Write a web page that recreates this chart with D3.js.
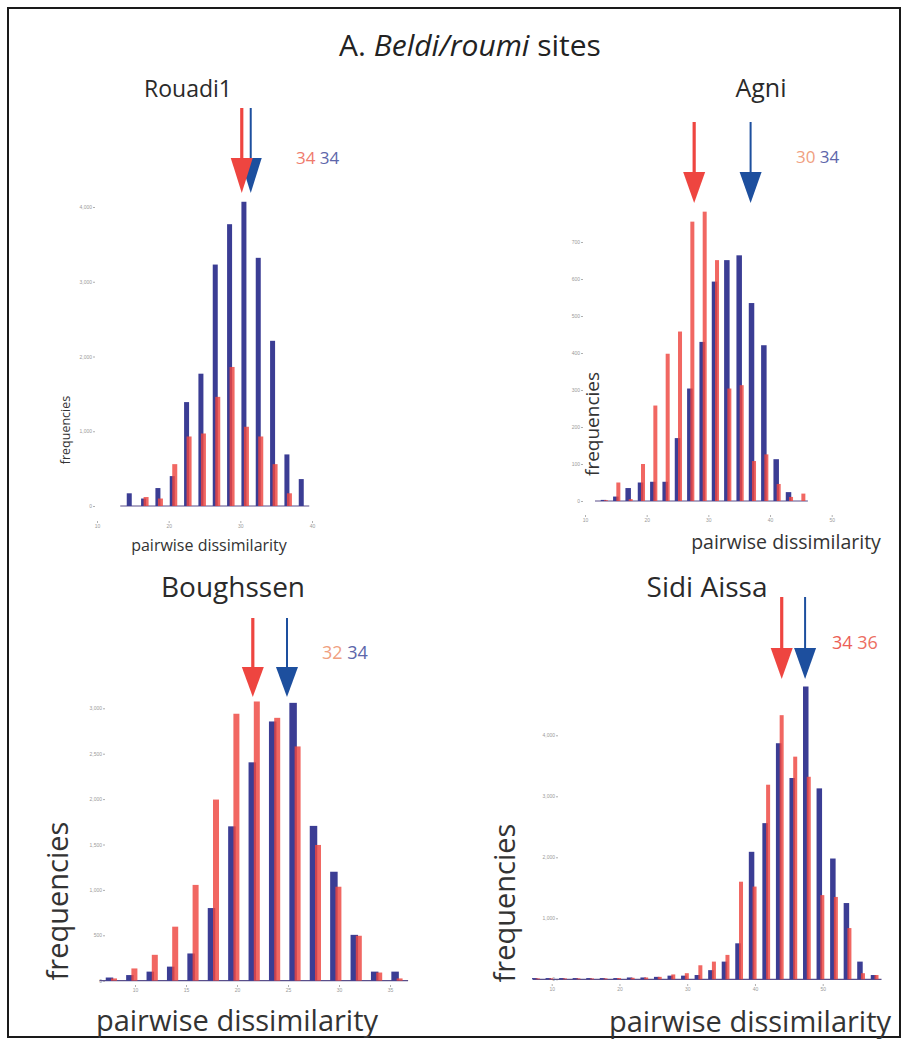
<!DOCTYPE html>
<html>
<head>
<meta charset="utf-8">
<script src="https://cdn.jsdelivr.net/npm/d3@7"></script>
<style>
  body { margin: 0; background: #fff; }
  svg { display: block; font-family: "Open Sans", "Noto Sans", sans-serif; }
  .tick text { fill: #9a9a9a; font-size: 5px; }
  .tick line { stroke: #b0b0b0; }
</style>
</head>
<body>
<script>
// ---- values ----

// Rouadi1
var rouadiBins = [14.5, 16.5, 18.5, 20.5, 22.5, 24.5, 26.5, 28.5, 30.5, 32.5, 34.5, 36.5, 38.5];
var rouadiBlue = [170, 100, 240, 400, 1390, 1770, 3230, 3770, 4070, 3320, 2210, 690, 360];
var rouadiRed  = [0, 120, 100, 560, 930, 970, 1460, 1860, 1060, 930, 560, 170, 0];
var rouadiXTicks = [10, 20, 30, 40];
var rouadiYTicks = [0, 1000, 2000, 3000, 4000];
var rouadiArrows = [30.2, 31.45];   // red, blue
var rouadiMeans = ["34", "34"];

// Agni
var agniBins = [13, 15, 17, 19, 21, 23, 25, 27, 29, 31, 33, 35, 37, 39, 41, 43, 45];
var agniBlue = [3, 12, 35, 50, 52, 52, 170, 304, 430, 593, 651, 664, 535, 421, 113, 24, 0];
var agniRed  = [2, 50, 5, 100, 258, 398, 458, 755, 782, 651, 304, 313, 108, 126, 46, 11, 20];
var agniXTicks = [10, 20, 30, 40, 50];
var agniYTicks = [0, 100, 200, 300, 400, 500, 600, 700];
var agniArrows = [27.7, 36.85];
var agniMeans = ["30", "34"];

// Boughssen
var boughBins = [7.5, 9.5, 11.5, 13.5, 15.5, 17.5, 19.5, 21.5, 23.5, 25.5, 27.5, 29.5, 31.5, 33.5, 35.5];
var boughBlue = [35, 62, 100, 155, 300, 800, 1700, 2405, 2855, 3060, 1705, 1200, 505, 100, 100];
var boughRed  = [25, 135, 285, 595, 1055, 1995, 2940, 3075, 2895, 2580, 1495, 1035, 495, 90, 25];
var boughXTicks = [10, 15, 20, 25, 30, 35];
var boughYTicks = [0, 500, 1000, 1500, 2000, 2500, 3000];
var boughArrows = [21.55, 24.9];
var boughMeans = ["32", "34"];

// Sidi Aissa
var sidiBins = [7.5, 9.5, 11.5, 13.5, 15.5, 17.5, 19.5, 21.5, 23.5, 25.5, 27.5, 29.5, 31.5,
                33.5, 35.5, 37.5, 39.5, 41.5, 43.5, 45.5, 47.5, 49.5, 51.5, 53.5, 55.5, 57.5];
var sidiBlue = [20, 20, 20, 20, 20, 20, 20, 30, 30, 40, 60, 60, 70, 150, 290,
                590, 2090, 2560, 3870, 3300, 4800, 3130, 1980, 1250, 290, 70];
var sidiRed  = [15, 15, 15, 15, 15, 15, 20, 25, 30, 40, 80, 100, 230, 290, 400,
                1600, 1520, 3190, 4330, 3650, 3320, 1380, 1350, 840, 100, 70];
var sidiXTicks = [10, 20, 30, 40, 50];
var sidiYTicks = [0, 1000, 2000, 3000, 4000];
var sidiArrows = [43.95, 47.4];
var sidiMeans = ["34", "36"];

var RED = "#ee4540", BLUE_BAR = "#3b3d94", BLUE_ARROW = "#1d4f9e";

// panel layout (pixels)
var panels = [
  { name: "Rouadi1", bins: rouadiBins, blue: rouadiBlue, red: rouadiRed, xTicks: rouadiXTicks, yTicks: rouadiYTicks,
    arrows: rouadiArrows, means: rouadiMeans, meanColors: ["#ef7a6c", "#5d66aa"],
    xRange: [97, 312], base: 506, yTop: 207, yAxisX: 95, xAxisY: 521, pad: [-9, 8],
    bw: 5, rw: 5, roff: 2.5, arrowTop: 108, headTop: 158, tip: 193,
    title: [188, 97, 23], meanPos: [296, 164, 17], yLab: [70, 430, 12.5], xLab: [209, 551, 16] },
  { name: "Agni", bins: agniBins, blue: agniBlue, red: agniRed, xTicks: agniXTicks, yTicks: agniYTicks,
    arrows: agniArrows, means: agniMeans, meanColors: ["#f0a080", "#5d66aa"],
    xRange: [585, 831.7], base: 501, yTop: 242, yAxisX: 583, xAxisY: 515, pad: [-8.5, 7],
    bw: 5.5, rw: 4, roff: 2.5, arrowTop: 122, headTop: 172, tip: 203,
    title: [761, 97, 25], meanPos: [796, 163, 17], yLab: [599, 424, 19], xLab: [786, 549, 19.5] },
  { name: "Boughssen", bins: boughBins, blue: boughBlue, red: boughRed, xTicks: boughXTicks, yTicks: boughYTicks,
    arrows: boughArrows, means: boughMeans, meanColors: ["#f0a080", "#5d66aa"],
    xRange: [135, 390], base: 980.7, yTop: 708.3, yAxisX: 105, xAxisY: 985, pad: [-10, 13],
    bw: 7.5, rw: 6, roff: 4.5, arrowTop: 618, headTop: 667, tip: 697,
    title: [233, 597, 28], meanPos: [322, 659, 18], yLab: [68, 901, 29], xLab: [237, 1031, 29] },
  { name: "Sidi Aissa", bins: sidiBins, blue: sidiBlue, red: sidiRed, xTicks: sidiXTicks, yTicks: sidiYTicks,
    arrows: sidiArrows, means: sidiMeans, meanColors: ["#ec5e56", "#ec6e62"],
    xRange: [551.7, 822.7], base: 979.3, yTop: 735.3, yAxisX: 558, xAxisY: 984, pad: [-2, 8],
    bw: 5.5, rw: 4, roff: 3, arrowTop: 597, headTop: 648, tip: 679,
    title: [707, 597, 28], meanPos: [832, 649, 18], yLab: [515, 903, 29], xLab: [750, 1032, 29] }
];

var svg = d3.select("body").append("svg")
  .attr("width", 907)
  .attr("height", 1042);

// frame
svg.append("rect")
  .attr("x", 8).attr("y", 8)
  .attr("width", 892).attr("height", 1029)
  .attr("fill", "none")
  .attr("stroke", "#1a1a1a")
  .attr("stroke-width", 2);

// main title
var mt = svg.append("text")
  .attr("x", 470).attr("y", 56)
  .attr("text-anchor", "middle")
  .attr("font-size", 30)
  .attr("fill", "#222");
mt.append("tspan").text("A. ");
mt.append("tspan").attr("font-style", "italic").text("Beldi/roumi");
mt.append("tspan").text(" sites");

panels.forEach(drawPanel);

function drawPanel(p) {
  var x = d3.scaleLinear()
    .domain([p.xTicks[0], p.xTicks[p.xTicks.length - 1]])
    .range(p.xRange);
  var y = d3.scaleLinear()
    .domain([0, p.yTicks[p.yTicks.length - 1]])
    .range([p.base, p.yTop]);

  var g = svg.append("g");

  // y axis (tiny labels)
  g.append("g")
    .attr("transform", "translate(" + p.yAxisX + ",0)")
    .call(d3.axisLeft(y).tickValues(p.yTicks).tickSize(2).tickPadding(1))
    .call(function(a) { a.select(".domain").remove(); });

  // x axis (tiny labels)
  g.append("g")
    .attr("transform", "translate(0," + p.xAxisY + ")")
    .call(d3.axisBottom(x).tickValues(p.xTicks).tickSize(2).tickPadding(1))
    .call(function(a) { a.select(".domain").remove(); });

  // baseline
  var last = p.bins[p.bins.length - 1];
  g.append("line")
    .attr("x1", x(p.bins[0]) + p.pad[0])
    .attr("x2", x(last) + p.pad[1])
    .attr("y1", p.base).attr("y2", p.base)
    .attr("stroke", "#5a4f8a")
    .attr("stroke-width", 1.2);

  // blue bars
  g.selectAll("rect.blue")
    .data(p.bins)
    .join("rect")
    .attr("class", "blue")
    .attr("x", function(d) { return x(d) - p.bw / 2; })
    .attr("y", function(d, i) { return y(p.blue[i]); })
    .attr("width", p.bw)
    .attr("height", function(d, i) { return p.base - y(p.blue[i]); })
    .attr("fill", BLUE_BAR);

  // red bars, drawn over the blue ones
  g.selectAll("rect.red")
    .data(p.bins)
    .join("rect")
    .attr("class", "red")
    .attr("x", function(d) { return x(d) + p.roff - p.rw / 2; })
    .attr("y", function(d, i) { return y(p.red[i]); })
    .attr("width", p.rw)
    .attr("height", function(d, i) { return p.base - y(p.red[i]); })
    .attr("fill", RED)
    .attr("fill-opacity", 0.82);

  // arrows: blue first, red on top
  arrow(g, x(p.arrows[1]), BLUE_ARROW, 2, p);
  arrow(g, x(p.arrows[0]), RED, 3.2, p);

  // mean labels
  var mtxt = g.append("text")
    .attr("x", p.meanPos[0]).attr("y", p.meanPos[1])
    .attr("font-size", p.meanPos[2]);
  mtxt.append("tspan").attr("fill", p.meanColors[0]).text(p.means[0] + " ");
  mtxt.append("tspan").attr("fill", p.meanColors[1]).text(p.means[1]);

  // panel title
  g.append("text")
    .attr("x", p.title[0]).attr("y", p.title[1])
    .attr("text-anchor", "middle")
    .attr("font-size", p.title[2])
    .attr("fill", "#2a2a2a")
    .text(p.name);

  // axis titles
  g.append("text")
    .attr("transform", "translate(" + p.yLab[0] + "," + p.yLab[1] + ") rotate(-90)")
    .attr("text-anchor", "middle")
    .attr("font-size", p.yLab[2])
    .attr("fill", "#333")
    .text("frequencies");

  g.append("text")
    .attr("x", p.xLab[0]).attr("y", p.xLab[1])
    .attr("text-anchor", "middle")
    .attr("font-size", p.xLab[2])
    .attr("fill", "#333")
    .text("pairwise dissimilarity");
}

function arrow(g, xpos, color, shaftW, p) {
  g.append("line")
    .attr("x1", xpos).attr("x2", xpos)
    .attr("y1", p.arrowTop).attr("y2", p.headTop + 2)
    .attr("stroke", color)
    .attr("stroke-width", shaftW);
  g.append("path")
    .attr("d", "M" + (xpos - 11) + "," + p.headTop + "L" + (xpos + 11) + "," + p.headTop + "L" + xpos + "," + p.tip + "Z")
    .attr("fill", color);
}
</script>
</body>
</html>
